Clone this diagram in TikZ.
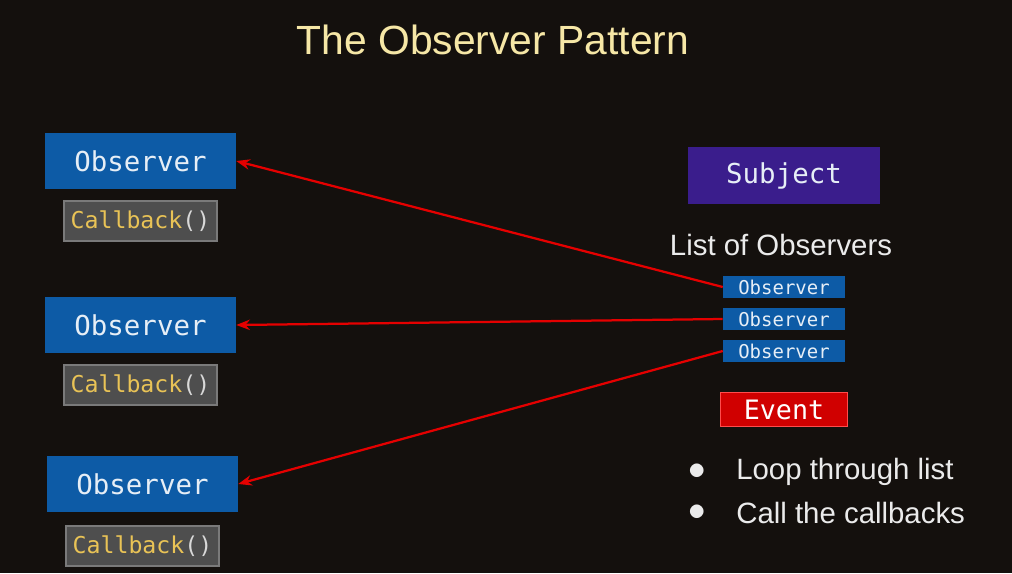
\documentclass[tikz,border=0pt]{standalone}
\usepackage{fontspec}
\setmainfont{Liberation Sans}
\setmonofont{DejaVu Sans Mono}
\usetikzlibrary{arrows.meta}
\definecolor{bgdark}{HTML}{14100D}
\definecolor{obsblue}{HTML}{0D5BA6}
\definecolor{subjpurple}{HTML}{3A1D8C}
\definecolor{eventred}{HTML}{D00000}
\definecolor{cbgray}{HTML}{4E4E4E}
\definecolor{cbborder}{HTML}{7A7A7A}
\definecolor{cbyellow}{HTML}{E9C356}
\definecolor{titleyellow}{HTML}{F6E7A6}
\definecolor{boxtext}{HTML}{E6EEF6}
\begin{document}
\begin{tikzpicture}[
  x=0.025cm, y=-0.025cm,
  obsbox/.style={fill=obsblue, minimum width=191*0.025cm, minimum height=56*0.025cm,
    inner sep=0pt, text=boxtext, font=\ttfamily\fontsize{19.5}{20}\selectfont},
  cbbox/.style={fill=cbgray, draw=cbborder, line width=2pt, minimum width=153*0.025cm,
    minimum height=40*0.025cm, inner sep=0pt, font=\ttfamily\fontsize{16.5}{17}\selectfont},
  smallobs/.style={fill=obsblue, minimum width=122*0.025cm, minimum height=22*0.025cm,
    inner sep=0pt, text=boxtext, font=\ttfamily\fontsize{13.5}{14}\selectfont},
  subjbox/.style={fill=subjpurple, minimum width=192*0.025cm, minimum height=57*0.025cm,
    inner sep=0pt, text=boxtext, font=\ttfamily\fontsize{19.5}{20}\selectfont},
  eventbox/.style={fill=eventred, draw=red!70!white, line width=1pt, minimum width=127*0.025cm,
    minimum height=34*0.025cm, inner sep=0pt, text=white, font=\ttfamily\fontsize{19}{20}\selectfont},
  plaintext/.style={text=white!92!black, inner sep=0pt, font=\fontsize{20.9}{22}\selectfont},
  callline/.style={->, red!90!black, line width=1.6pt},
  >={Stealth[length=3.4mm, width=2.6mm]}
]
  \fill[bgdark] (0,0) rectangle (1012,573);

  \node[text=titleyellow, inner sep=0pt, font=\fontsize{29}{30}\selectfont] (title) at (493,40) {The Observer Pattern};

  % observers on the left
  \node[obsbox] (obs1) at (140.5,161) {Observer};
  \node[cbbox] (cb1) at (140.5,221) {\textcolor{cbyellow}{Callback}\textcolor{white!85!black}{()}};
  \node[obsbox] (obs2) at (140.5,325) {Observer};
  \node[cbbox] (cb2) at (140.5,385) {\textcolor{cbyellow}{Callback}\textcolor{white!85!black}{()}};
  \node[obsbox] (obs3) at (142.5,484) {Observer};
  \node[cbbox] (cb3) at (142.5,546) {\textcolor{cbyellow}{Callback}\textcolor{white!85!black}{()}};

  % subject side
  \node[subjbox] (subj) at (784,175.5) {Subject};
  \node[plaintext] (list) at (781,245) {List of Observers};
  \node[smallobs] (sobs1) at (784,287) {Observer};
  \node[smallobs] (sobs2) at (784,319) {Observer};
  \node[smallobs] (sobs3) at (784,351) {Observer};
  \node[eventbox] (event) at (784,409.5) {Event};

  \node[plaintext, anchor=west] (step1) at (736,472) {Loop through list};
  \node[plaintext, anchor=west] (step2) at (736,513) {Call the callbacks};
  \node[plaintext, font=\fontsize{26}{26}\selectfont] (dot1) at (697,472) {$\bullet$};
  \node[plaintext, font=\fontsize{26}{26}\selectfont] (dot2) at (697,513) {$\bullet$};

  \draw[callline] (sobs1.west) -- (obs1.east);
  \draw[callline] (sobs2.west) -- (obs2.east);
  \draw[callline] (sobs3.west) -- (obs3.east);
\end{tikzpicture}
\end{document}
